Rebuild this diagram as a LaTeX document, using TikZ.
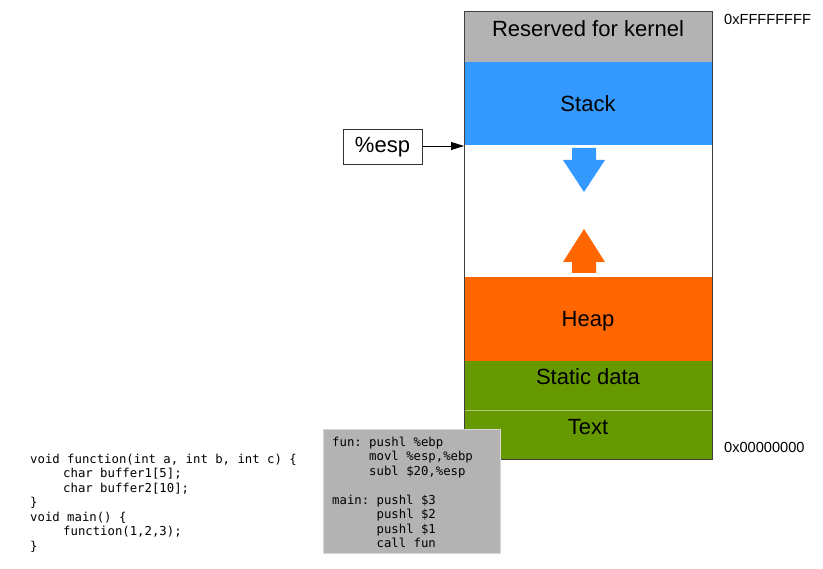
\documentclass[tikz,border=0pt]{standalone}
\usepackage{fontspec}
\setmainfont{Liberation Sans}
\setmonofont{DejaVu Sans Mono}
\usetikzlibrary{positioning,arrows.meta}
\definecolor{kernelgray}{HTML}{B3B3B3}
\definecolor{stackblue}{HTML}{3399FF}
\definecolor{heaporange}{HTML}{FF6600}
\definecolor{datagreen}{HTML}{669900}
\definecolor{boxline}{HTML}{D6D6D6}

\begin{document}
\begin{tikzpicture}[x=1pt,y=-1pt,
		seg/.style={anchor=base,font=\fontsize{22}{26}\selectfont},
		addr/.style={anchor=base west,inner xsep=0,font=\fontsize{14.6}{17}\selectfont},
		code/.style={anchor=north west,inner sep=0,align=left,font=\ttfamily\fontsize{12.3}{14.5}\selectfont},
		reg/.style={draw=black!80,line width=0.9pt,minimum width=79pt,minimum height=35pt,font=\fontsize{22}{26}\selectfont}
	]
	\useasboundingbox (0,0) rectangle (823,569);
	% memory column
	\fill[kernelgray]  (464,12)  rectangle (712,62);
	\fill[stackblue]   (464,62)  rectangle (712,145);
	\fill[heaporange]  (464,277) rectangle (712,361);
	\fill[datagreen]   (464,361) rectangle (712,460);
	\draw[datagreen!55!white,line width=0.7pt] (464,410) -- (712,410);
	\draw[black!75,line width=1pt] (464,12) rectangle (712,460);
	\coordinate (sp) at (464,146);
	% growth arrows
	\fill[stackblue]  (572,148) -- (596,148) -- (596,160) -- (605,160) -- (584,192) -- (563,160) -- (572,160) -- cycle;
	\fill[heaporange] (584,229) -- (605,262) -- (596,262) -- (596,273) -- (572,273) -- (572,262) -- (563,262) -- cycle;
	% labels
	\node[seg] (kernel) at (588,37)  {Reserved for kernel};
	\node[seg] (stack)  at (588,112) {Stack};
	\node[seg] (heap)   at (588,327) {Heap};
	\node[seg] (static) at (588,385) {Static data};
	\node[seg] (text)   at (588,435) {Text};
	\node[addr] (top) at (724,25)  {0xFFFFFFFF};
	\node[addr] (bot) at (724,453) {0x00000000};
	% stack pointer
	\node[reg] (esp) at (382.5,147) {\%esp};
	\draw[line width=0.8pt,-{Triangle[length=13pt,width=8pt]}] (esp.east |- sp) -- (sp);
	% source code
	\node[code] (csrc) at (30,453.5) {void function(int a, int b, int c) \{\\
		\hspace{33pt}char buffer1[5];\\
		\hspace{33pt}char buffer2[10];\\
		\}\\
		void main() \{\\
		\hspace{33pt}function(1,2,3);\\
		\}};
	\node[anchor=north west,fill=kernelgray,draw=boxline,line width=1pt,minimum width=177pt,minimum height=124pt,inner sep=0] (asm) at (323,429) {};
	\node[code] (asmsrc) at (332,436.5) {fun: pushl \%ebp\\
		\phantom{fun: }movl \%esp,\%ebp\\
		\phantom{fun: }subl \$20,\%esp\\[14.5pt]
		main: pushl \$3\\
		\phantom{main: }pushl \$2\\
		\phantom{main: }pushl \$1\\
		\phantom{main: }call fun};
\end{tikzpicture}
\end{document}
